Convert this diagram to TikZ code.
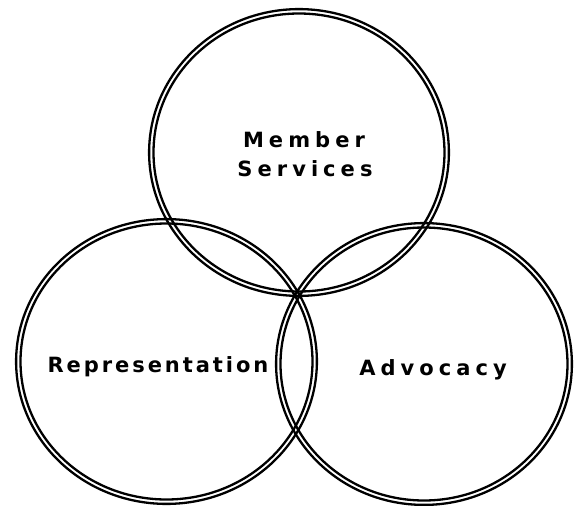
\documentclass[tikz,border=0pt]{standalone}
\usepackage{fontspec}
\newfontfamily\lblwide{DejaVu Sans}[LetterSpace=24]
\newfontfamily\lblnarrow{DejaVu Sans}[LetterSpace=14]
\begin{document}
\begin{tikzpicture}[x=1pt,y=-1pt,
  ring/.style={draw=black,line width=2.3pt},
  lbl/.style={font=\lblwide\bfseries\fontsize{21}{29}\selectfont,align=center,inner sep=0pt,anchor=base},
  lbln/.style={font=\lblnarrow\bfseries\fontsize{21}{29}\selectfont,inner sep=0pt,anchor=base}]
\useasboundingbox (0,0) rectangle (574,506);
\coordinate (ct) at (299,152.5);
\coordinate (cl) at (166.5,361.5);
\coordinate (cr) at (424,364);
\draw[ring] (ct) ellipse [x radius=149.9, y radius=143.4];
\draw[ring] (ct) ellipse [x radius=145.5, y radius=139];
\draw[ring] (cl) ellipse [x radius=150.4, y radius=142.4];
\draw[ring] (cl) ellipse [x radius=146, y radius=138];
\draw[ring] (cr) ellipse [x radius=147.9, y radius=140.9];
\draw[ring] (cr) ellipse [x radius=143.5, y radius=136.5];
\node[lbl] (ms1) at (304,147) {Member};
\node[lbl] (ms2) at (305,176) {Services};
\node[lbln] (rep) at (158,372) {Representation};
\node[lbl] (adv) at (433,375) {Advocacy};
\end{tikzpicture}
\end{document}
